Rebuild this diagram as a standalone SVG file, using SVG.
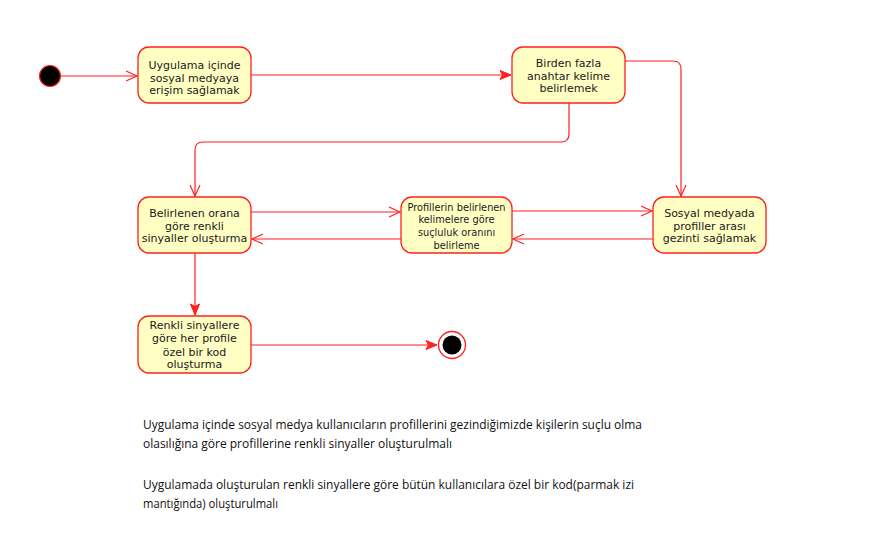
<svg xmlns="http://www.w3.org/2000/svg" width="875" height="548" viewBox="0 0 875 548">
<style>
.node rect{fill:#ffffc4;stroke:#ff2020;stroke-width:1.3}
.t{font-family:"DejaVu Sans",Verdana,sans-serif;font-size:11px;fill:#1a1a1a;text-anchor:middle}
.ts{font-family:"DejaVu Sans",Verdana,sans-serif;font-size:9.8px;fill:#1a1a1a;text-anchor:middle}
.note{font-family:"Open Sans","Liberation Sans",Arial,sans-serif;font-size:13.5px;fill:#111}
.c path{fill:none;stroke:#ff2020;stroke-width:1.2}
</style>
<defs>
<marker id="open" markerWidth="14" markerHeight="12" refX="12" refY="6" orient="auto" markerUnits="userSpaceOnUse">
<path d="M1,1 L12,6 L1,11" fill="none" stroke="#ff2020" stroke-width="1.2"/>
</marker>
<marker id="fill" markerWidth="14" markerHeight="12" refX="12" refY="6" orient="auto" markerUnits="userSpaceOnUse">
<path d="M1,1.5 L12,6 L1,10.5 L3.5,6 Z" fill="#ff2020" stroke="#ff2020" stroke-width="1"/>
</marker>
</defs>
<rect width="875" height="548" fill="#fff"/>
<g class="c">
<path d="M61,76 L137,76" marker-end="url(#open)"/>
<path d="M251,75 L511,75" marker-end="url(#fill)"/>
<path d="M625,61 L673,61 Q681,61 681,69 L681,196" marker-end="url(#open)"/>
<path d="M569,103 L569,134 Q569,142 561,142 L203,142 Q195,142 195,150 L195,196" marker-end="url(#open)"/>
<path d="M251,212 L400,212" marker-end="url(#open)"/>
<path d="M401,239 L252,239" marker-end="url(#open)"/>
<path d="M512,211 L652,211" marker-end="url(#open)"/>
<path d="M653,239 L513,239" marker-end="url(#open)"/>
<path d="M195,253 L195,315" marker-end="url(#fill)"/>
<path d="M251,345 L437,345" marker-end="url(#fill)"/>
</g>
<g id="start"><circle cx="50" cy="76" r="10.5" fill="#000" stroke="#ff2020" stroke-width="1.2"/></g>
<g id="n1" class="node"><rect x="138" y="47" width="113" height="56" rx="11"/>
<text class="t" x="194.5" y="69">Uygulama içinde</text>
<text class="t" x="194.5" y="81.5">sosyal medyaya</text>
<text class="t" x="194.5" y="94">erişim sağlamak</text></g>
<g id="n2" class="node"><rect x="512" y="47" width="113" height="56" rx="11"/>
<text class="t" x="568.5" y="67">Birden fazla</text>
<text class="t" x="568.5" y="79.5">anahtar kelime</text>
<text class="t" x="568.5" y="92">belirlemek</text></g>
<g id="n3" class="node"><rect x="138" y="197" width="113" height="56" rx="11"/>
<text class="t" x="194.5" y="217">Belirlenen orana</text>
<text class="t" x="194.5" y="229.5">göre renkli</text>
<text class="t" x="194.5" y="242">sinyaller oluşturma</text></g>
<g id="n4" class="node"><rect x="401" y="197" width="111" height="56" rx="11"/>
<text class="ts" x="456.5" y="210.5">Profillerin belirlenen</text>
<text class="ts" x="456.5" y="223">kelimelere göre</text>
<text class="ts" x="456.5" y="236">suçluluk oranını</text>
<text class="ts" x="456.5" y="248.5">belirleme</text></g>
<g id="n5" class="node"><rect x="653" y="197" width="113" height="56" rx="11"/>
<text class="t" x="709.5" y="217">Sosyal medyada</text>
<text class="t" x="709.5" y="229.5">profiller arası</text>
<text class="t" x="709.5" y="242">gezinti sağlamak</text></g>
<g id="n6" class="node"><rect x="138" y="316" width="113" height="57" rx="11"/>
<text class="t" x="194.5" y="329">Renkli sinyallere</text>
<text class="t" x="194.5" y="342">göre her profile</text>
<text class="t" x="194.5" y="355.5">özel bir kod</text>
<text class="t" x="194.5" y="367.5">oluşturma</text></g>
<g id="end"><circle cx="452" cy="345" r="13.5" fill="#fff" stroke="#ff2020" stroke-width="1.3"/><circle cx="452" cy="345" r="9.5" fill="#000"/></g>
<g id="notes">
<text class="note" x="143" y="429" textLength="499" lengthAdjust="spacingAndGlyphs">Uygulama içinde sosyal medya kullanıcıların profillerini gezindiğimizde kişilerin suçlu olma</text>
<text class="note" x="143" y="448" textLength="309" lengthAdjust="spacingAndGlyphs">olasılığına göre profillerine renkli sinyaller oluşturulmalı</text>
<text class="note" x="143" y="489" textLength="491" lengthAdjust="spacingAndGlyphs">Uygulamada oluşturulan renkli sinyallere göre bütün kullanıcılara özel  bir kod(parmak izi</text>
<text class="note" x="143" y="508" textLength="135" lengthAdjust="spacingAndGlyphs">mantığında) oluşturulmalı</text>
</g>
</svg>
